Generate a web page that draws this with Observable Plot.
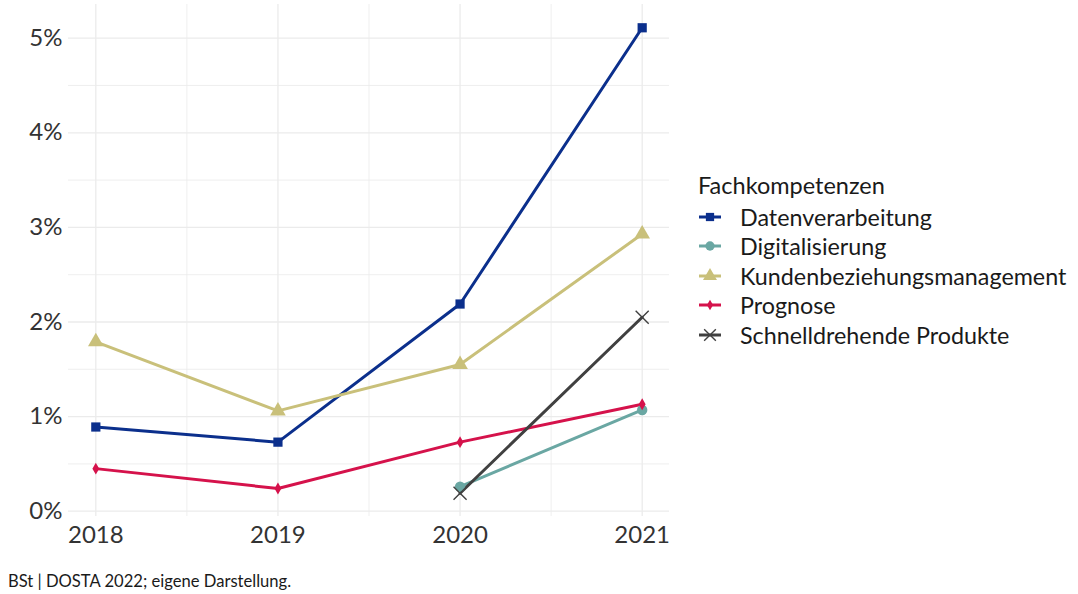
<!DOCTYPE html>
<html>
<head>
<meta charset="utf-8">
<script src="https://cdn.jsdelivr.net/npm/d3@7"></script>
<script src="https://cdn.jsdelivr.net/npm/@observablehq/plot@0.6"></script>
<style>
  html, body { margin: 0; padding: 0; background: #fff; }
  body { font-family: Lato, "Open Sans", sans-serif; width: 1078px; height: 594px; position: relative; overflow: hidden; }
  #chart { position: absolute; left: 0; top: 0; }
  #legend { position: absolute; left: 698px; top: 170px; color: #1a1a1a; }
  #legend .title { font-size: 23.5px; line-height: 30px; margin-bottom: 2px; }
  #legend .item { display: flex; align-items: center; height: 29.5px; font-size: 23.3px; }
  #legend .item svg { margin-right: 18px; }
  #caption { position: absolute; left: 8px; top: 571px; font-size: 16.6px; color: #1a1a1a; }
</style>
</head>
<body>
<div id="chart"></div>
<div id="legend"></div>
<div id="caption">BSt | DOSTA 2022; eigene Darstellung.</div>
<script>
const years = [2018, 2019, 2020, 2021];
const seriesNames = ["Datenverarbeitung", "Digitalisierung", "Kundenbeziehungsmanagement", "Prognose", "Schnelldrehende Produkte"];
const datenverarbeitung = [0.89, 0.73, 2.19, 5.11];
const digitalisierung = [null, null, 0.26, 1.07];
const kundenbeziehungsmanagement = [1.79, 1.06, 1.55, 2.93];
const prognose = [0.45, 0.24, 0.73, 1.13];
const schnelldrehende = [null, null, 0.19, 2.05];
const yTicks = [0, 1, 2, 3, 4, 5];
const yMinor = [0.5, 1.5, 2.5, 3.5, 4.5];
const xMinor = [2018.5, 2019.5, 2020.5];

const colors = ["#0b2f8c", "#6aa7a3", "#c9c07a", "#d5124b", "#404040"];
const symbols = ["square", "circle", "triangle", "diamond", "times"];
const sizes = [5.2, 5.2, 5.8, 3.6, 6];

const valuesList = [datenverarbeitung, digitalisierung, kundenbeziehungsmanagement, prognose, schnelldrehende];
const data = [];
seriesNames.forEach((name, i) => {
  years.forEach((yr, j) => {
    const v = valuesList[i][j];
    if (v != null) data.push({series: name, year: yr, value: v});
  });
});

const lineMarks = seriesNames.map((name, i) =>
  Plot.line(data.filter(d => d.series === name), {x: "year", y: "value", stroke: colors[i], strokeWidth: 3})
);
const dotMarks = seriesNames.map((name, i) => {
  const isTimes = symbols[i] === "times";
  return Plot.dot(data.filter(d => d.series === name), {
    x: "year", y: "value", symbol: () => symbols[i], r: sizes[i],
    fill: isTimes ? "none" : colors[i], stroke: isTimes ? colors[i] : "none", strokeWidth: isTimes ? 1.4 : 0
  });
});

const plot = Plot.plot({
  width: 680,
  height: 556,
  marginLeft: 68,
  marginRight: 11,
  marginTop: 4,
  marginBottom: 40,
  style: {fontFamily: "Lato, sans-serif", fontSize: "24px", color: "#333", background: "#fff"},
  x: {domain: [2017.85, 2021.15], ticks: years, tickFormat: d => String(d), tickSize: 0, tickPadding: 8, label: null},
  y: {domain: [-0.056, 5.356], ticks: yTicks, tickFormat: d => d + "%", tickSize: 0, tickPadding: 6, label: null},
  marks: [
    Plot.gridY(yMinor, {stroke: "#ebebeb", strokeOpacity: 1, strokeWidth: 0.8}),
    Plot.gridX(xMinor, {stroke: "#ebebeb", strokeOpacity: 1, strokeWidth: 0.8}),
    Plot.gridY(yTicks, {stroke: "#ebebeb", strokeOpacity: 1, strokeWidth: 1.3}),
    Plot.gridX(years, {stroke: "#ebebeb", strokeOpacity: 1, strokeWidth: 1.3}),
    Plot.axisX({ticks: years, tickFormat: d => String(d), tickSize: 0, tickPadding: 9, fontSize: 24, fill: "#333"}),
    Plot.axisY({ticks: yTicks, tickFormat: d => d + "%", tickSize: 0, tickPadding: 6, fontSize: 24, fill: "#333"}),
    ...lineMarks,
    ...dotMarks
  ]
});
document.getElementById("chart").appendChild(plot);

// Legend
const legend = d3.select("#legend");
legend.append("div").attr("class", "title").text("Fachkompetenzen");
const symMap = {square: d3.symbolSquare, circle: d3.symbolCircle, triangle: d3.symbolTriangle, diamond: d3.symbolDiamond, times: d3.symbolTimes};
seriesNames.forEach((name, i) => {
  const item = legend.append("div").attr("class", "item");
  const svg = item.append("svg").attr("width", 24).attr("height", 20);
  svg.append("line").attr("x1", 1).attr("x2", 23).attr("y1", 10).attr("y2", 10)
    .attr("stroke", colors[i]).attr("stroke-width", 3);
  const isTimes = symbols[i] === "times";
  const area = Math.PI * sizes[i] * sizes[i] * 0.8;
  svg.append("path").attr("transform", "translate(12,10)")
    .attr("d", d3.symbol(symMap[symbols[i]], area)())
    .attr("fill", isTimes ? "none" : colors[i])
    .attr("stroke", isTimes ? colors[i] : "none")
    .attr("stroke-width", isTimes ? 1.4 : 0);
  item.append("span").text(name);
});
</script>
</body>
</html>
